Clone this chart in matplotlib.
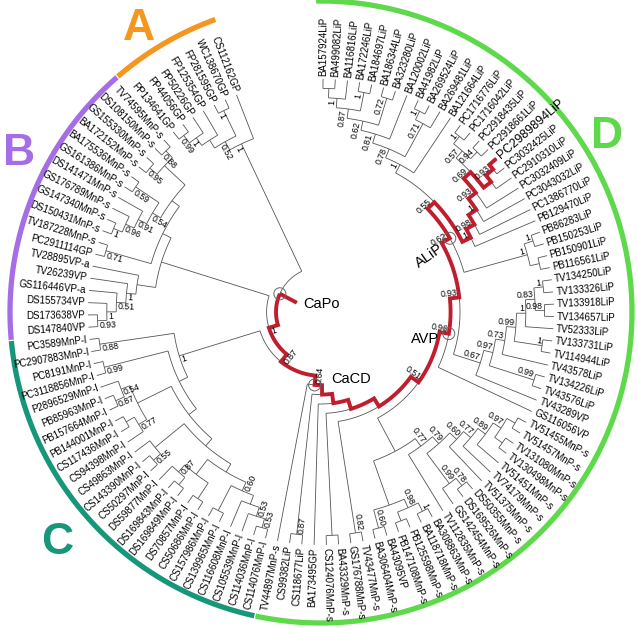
import numpy as np
import matplotlib
matplotlib.use("Agg")
import matplotlib.pyplot as plt
from matplotlib.patches import Circle
from matplotlib.collections import LineCollection

plt.rcParams['font.family'] = ['Liberation Sans', 'DejaVu Sans']

# ---------------- data: tree topology (Newick pieces) with support values ----------------
lip_BA = "(((((((BA157924LiP,BA499082LiP),BA116816LiP)1,(BA172246LiP,BA184697LiP)1)0.87,(BA186344LiP,BA323280LiP)0.72)0.62,BA120002LiP)0.81,((BA41982LiP,BA269524LiP)1,BA269481LiP)0.71)0.78,BA121664LiP)1"
lip_PC = "(((((((PC1716776LiP,PC1716042LiP)1,(PC2918435LiP,PC2918661LiP)0.94)0.57,((PC2989894LiP,PC3032425LiP)0.93,PC2910310LiP))0.69,PC3032409LiP)0.93,PC3043032LiP)1,PC1386770LiP)0.98,PB129470LiP)1"
lip_PB = "((PB86283LiP,PB150253LiP)1,(PB150901LiP,PB116561LiP))1"
lip_TV = "(((((((TV134250LiP,TV133326LiP)1,(TV133918LiP,TV134657LiP)0.98)0.83,TV52333LiP)1,(TV133731LiP,TV114944LiP)1)0.99,TV43578LiP)0.73,(TV134226LiP,TV43576LiP)0.99)0.97,TV43289VP)0.67"
mnps_TV = "(((((TV51455MnP-s,TV51457MnP-s),(TV131080MnP-s,TV130498MnP-s))0.97,TV51451MnP-s)0.89,TV74179MnP-s)0.77,TV51375MnP-s)0.60"
mnps_DS = "((DS50355MnP-s,DS169526MnP-s)0.78,GS142454MnP-s)0.99"
mnps_BA = "(((BA308863MnP-s,BA118718MnP-s)1,(PB125598MnP-s,PB147108MnP-s))0.98,(BA43095VP,BA306404MnP-s)0.60)"
clade_C1 = "((((CS114076MnP-l,CS114036MnP-l)0.53,CS105539MnP-l)0.53,CS116608MnP-l),(CS139965MnP-l,CS157986MnP-l))0.60"
clade_C2 = "((CS50686MnP-l,DS70857MnP-l),((DS169849MnP-l,DS169843MnP-l),DS59877MnP-l)0.87)"
clade_C3 = "((CS50297MnP-l,CS143390MnP-l)0.55,CS49863MnP-l)"
clade_C4 = "(CS94398MnP-l,(CS117436MnP-l,PB144001MnP-l))0.77"
clade_C5 = "((PB157664MnP-l,PB85963MnP-l)0.87,P2896529MnP-l)0.54"
clade_C6 = "(PC3118856MnP-l,PC8191MnP-l)0.99"
clade_C7 = "(PC2907883MnP-l,PC3589MnP-l)0.88"
clade_B_VP = "(((((DS147840VP,DS173638VP)0.93,DS155734VP)1,GS116446VP-a)0.51,TV26239VP)1,TV28895VP-a)"
clade_B_MnP = "((PC2911114GP,TV187228MnP-s)0.71,(((((DS150431MnP-s,GS147340MnP-s)1,GS176789MnP-s)0.96,DS141471MnP-s)0.91,(GS161386MnP-s,BA175536MnP-s)0.59)0.54,((BA172152MnP-s,GS155330MnP-s)0.95,(DS108150MnP-s,TV74595MnP-s)0.88)))"
clade_A = "(((((PP134641GP,PP44056GP)0.99,PP50226GP)1,FP125354GP),(FP281595GP,WC138670GP)1)0.52,CS112162GP)1"

# ancestral nodes marked on the tree: (name, leaf1, leaf2) -> MRCA
ancestors = [("CaPo", "BA157924LiP", "CS112162GP"),
             ("CaCD", "BA157924LiP", "TV44897MnP-s"),
             ("AVP", "BA157924LiP", "GS116056VP"),
             ("ALiP", "BA157924LiP", "PB116561LiP")]
highlight_leaf = "PC2989894LiP"

# clade ring groups: (letter, first leaf, last leaf, colour)
groups = [("A", "PP134641GP", "CS112162GP", "#F5961E"),
          ("B", "DS147840VP", "TV74595MnP-s", "#A56EE6"),
          ("C", "CS114076MnP-l", "PC3589MnP-l", "#17977A"),
          ("D", "BA157924LiP", "TV44897MnP-s", "#5FD94C")]

# ---------------- assemble tree ----------------
alip = f"(({lip_BA},{lip_PC})0.55,{lip_PB})0.62"
avp = f"(({alip},{lip_TV})0.93,GS116056VP)0.96"
n051 = f"({avp},((({mnps_TV},{mnps_DS})0.79,TV112835MnP-s)0.77,{mnps_BA}))0.51"
cacd = f"((((({n051},(TV43477MnP-s,GS176788MnP-s)0.82),(BA43329MnP-s,CS124076MnP-s)),BA173495GP),(CS118677LiP,CS99382LiP)0.87),TV44897MnP-s)0.64"
cclade = f"((((({clade_C1},{clade_C2}),{clade_C3}),({clade_C4},{clade_C5})),{clade_C6}),{clade_C7})1"
bclade = f"({clade_B_VP},{clade_B_MnP})"
newick = f"((({cacd},{cclade})0.87,{bclade})1,{clade_A});"


def parse_newick(s):
    s = s.strip().rstrip(';')
    pos = 0

    def read():
        nonlocal pos
        node = {'children': [], 'label': ''}
        if s[pos] == '(':
            pos += 1
            while True:
                node['children'].append(read())
                c = s[pos]
                pos += 1
                if c == ')':
                    break
                if c != ',':
                    raise ValueError("bad newick at %d" % pos)
        st = pos
        while pos < len(s) and s[pos] not in ',()':
            pos += 1
        node['label'] = s[st:pos]
        return node

    root = read()
    if pos != len(s):
        raise ValueError("trailing newick")
    return root


tree = parse_newick(newick)

# ---------------- layout (circular, tips aligned) ----------------
B0, DB = 0.5, 3.02          # first leaf bearing, spacing (deg, clockwise from top)
R_TIP, STEP = 233.0, 9.4
CX, CY, W, H = 321, 312, 638, 628

leaves = []


def walk(n, parent=None):
    n['parent'] = parent
    if not n['children']:
        n['h'] = 0
        leaves.append(n)
    else:
        for c in n['children']:
            walk(c, n)
        n['h'] = 1 + max(c['h'] for c in n['children'])


walk(tree)
leaf_by_name = {}
for i, lf in enumerate(leaves):
    lf['b'] = B0 + i * DB
    leaf_by_name[lf['label']] = lf


def set_geom(n):
    for c in n['children']:
        set_geom(c)
    if n['children']:
        n['b'] = 0.5 * (n['children'][0]['b'] + n['children'][-1]['b'])
    n['r'] = R_TIP - STEP * n['h']


set_geom(tree)


def pol(b, r):
    t = np.radians(b)
    return r * np.sin(t), r * np.cos(t)


def arc_pts(b1, b2, r, step=0.5):
    k = max(2, int(abs(b2 - b1) / step) + 1)
    bb = np.linspace(b1, b2, k)
    t = np.radians(bb)
    return np.column_stack([r * np.sin(t), r * np.cos(t)])


fig = plt.figure(figsize=(W / 100, H / 100), dpi=100)
ax = fig.add_axes([0, 0, 1, 1])
ax.set_xlim(-CX, W - CX)
ax.set_ylim(-(H - CY), CY)
ax.axis('off')

segs = []
nodes_all = []


def collect(n):
    nodes_all.append(n)
    if n['children']:
        segs.append(arc_pts(n['children'][0]['b'], n['children'][-1]['b'], n['r']))
        for c in n['children']:
            segs.append(np.array([pol(c['b'], n['r']), pol(c['b'], c['r'])]))
            collect(c)


collect(tree)
ax.add_collection(LineCollection(segs, colors='#555555', linewidths=0.6, zorder=2))

# red highlighted lineage
path = []
n = leaf_by_name[highlight_leaf]
while n is not None:
    path.append(n)
    n = n['parent']
path = path[::-1]
red = [np.array([pol(path[0]['b'], path[0]['r'])])]
for p, c in zip(path[:-1], path[1:]):
    red.append(arc_pts(p['b'], c['b'], p['r']))
    red.append(np.array([pol(c['b'], p['r']), pol(c['b'], c['r'])]))
red = np.vstack(red)
ax.plot(red[:, 0], red[:, 1], color='#BE1E2D', lw=2.8, solid_capstyle='butt',
        solid_joinstyle='miter', zorder=3)

# leaf labels
for lf in leaves:
    b = lf['b']
    x, y = pol(b, R_TIP + 3)
    fs = 9 if lf['label'] == highlight_leaf else 7
    if b < 180:
        ax.text(x, y, lf['label'], rotation=90 - b, ha='left', va='center',
                rotation_mode='anchor', fontsize=fs, zorder=4)
    else:
        ax.text(x, y, lf['label'], rotation=270 - b, ha='right', va='center',
                rotation_mode='anchor', fontsize=fs, zorder=4)

# support values
for nd in nodes_all:
    if nd['children'] and nd['label']:
        b = nd['b']
        x, y = pol(b, nd['r'] - 1.5)
        if b < 180:
            ax.text(x, y, nd['label'], rotation=90 - b, ha='right', va='bottom',
                    rotation_mode='anchor', fontsize=6.3, zorder=4)
        else:
            ax.text(x, y, nd['label'], rotation=270 - b, ha='left', va='top',
                    rotation_mode='anchor', fontsize=6.3, zorder=4)


# ancestral node markers
def mrca(a, b):
    pa = []
    n = leaf_by_name[a]
    while n is not None:
        pa.append(id(n))
        n = n['parent']
    n = leaf_by_name[b]
    while id(n) not in pa:
        n = n['parent']
    return n


anc_style = {"CaPo": dict(dx=23, dy=-10, ha='left', rot=0, line=(17, -9)),
             "CaCD": dict(dx=17, dy=6, ha='left', rot=0, line=None),
             "AVP": dict(dx=-10, dy=-5, ha='right', rot=0, line=None),
             "ALiP": dict(dx=-20, dy=-18, ha='center', rot=35, line=None)}
for name, a, b in ancestors:
    nd = mrca(a, b)
    x, y = pol(nd['b'], nd['r'])
    ax.add_patch(Circle((x, y), 6, fill=False, ec='#666666', lw=0.7, zorder=5))
    st = anc_style[name]
    if st['line']:
        ax.plot([x, x + st['line'][0]], [y, y + st['line'][1]], color='#BE1E2D', lw=2.8,
                solid_capstyle='butt', zorder=3)
    ax.text(x + st['dx'], y + st['dy'], name, ha=st['ha'], va='center', rotation=st['rot'],
            fontsize=10.5, zorder=5)

# clade rings and letters
letter_pos = {"A": (327.7, 341), "B": (298.4, 343), "C": (229.4, 348), "D": (57.8, 338)}
for letter, f, l, col in groups:
    b1 = leaf_by_name[f]['b'] - 1.4
    b2 = leaf_by_name[l]['b'] + 1.4
    pts = arc_pts(b1, b2, 311)
    ax.plot(pts[:, 0], pts[:, 1], color=col, lw=3.8, solid_capstyle='butt', zorder=1)
    lb, lr = letter_pos[letter]
    x, y = pol(lb, lr)
    ax.text(x, y, letter, color=col, fontsize=32, fontweight='bold', ha='center',
            va='center_baseline')

fig.savefig('out.png', dpi=100)
